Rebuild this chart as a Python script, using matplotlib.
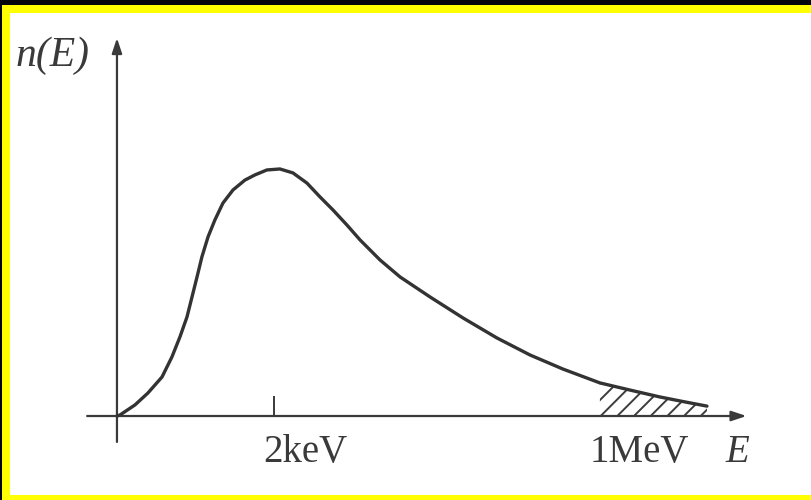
import matplotlib
matplotlib.use("Agg")
import matplotlib.pyplot as plt
from matplotlib.patches import Rectangle
import numpy as np

# --- data (arbitrary units: E so that 2keV tick = 1, n so that peak = 1) ---
E_vals = [0, 0.019, 0.115, 0.197, 0.287, 0.350, 0.401, 0.446, 0.478, 0.510,
          0.541, 0.580, 0.624, 0.675, 0.739, 0.815, 0.879, 0.955, 1.038, 1.121,
          1.210, 1.293, 1.376, 1.465, 1.548, 1.675, 1.803, 1.994, 2.204, 2.420,
          2.631, 2.841, 3.076, 3.268, 3.459, 3.618, 3.758]
n_vals = [0, 0.004, 0.045, 0.093, 0.158, 0.239, 0.320, 0.401, 0.482, 0.563,
          0.644, 0.725, 0.794, 0.862, 0.915, 0.955, 0.976, 0.996, 1.0, 0.984,
          0.943, 0.887, 0.834, 0.773, 0.713, 0.632, 0.563, 0.482, 0.397, 0.316,
          0.247, 0.190, 0.134, 0.105, 0.077, 0.057, 0.040]
tick_labels = ["2keV", "1MeV"]
tick_pos = [1.0, 3.076]
tail_start = 3.07
x_label = "E"
y_label = "n(E)"

plt.rcParams["hatch.linewidth"] = 1.4
ink = "#3a3a3a"
fig = plt.figure(figsize=(8.12, 5.0), dpi=100)
fig.patch.set_facecolor("white")

# frame: black outer, yellow border
fig.patches.append(Rectangle((0, 0), 1, 1, transform=fig.transFigure,
                             facecolor="#02060c", edgecolor="none", zorder=-10))
fig.patches.append(Rectangle((2/812, 0), 1, 1 - 5/500, transform=fig.transFigure,
                             facecolor="#ffff00", edgecolor="none", zorder=-9))
fig.patches.append(Rectangle((10/812, 5/500), 1, 1 - 18/500, transform=fig.transFigure,
                             facecolor="white", edgecolor="none", zorder=-8))

ax = fig.add_axes([0, 0, 1, 1], zorder=5)
ax.patch.set_visible(False)
ax.set_xlim(-0.745, 4.427)
ax.set_ylim(-0.340, 1.684)
ax.axis("off")

E = np.array(E_vals)
n = np.array(n_vals)

# axes with arrows
ax.annotate("", xy=(4.01, 0), xytext=(-0.19, 0),
            arrowprops=dict(arrowstyle="-|>,head_length=0.9,head_width=0.3",
                            color=ink, lw=1.6, shrinkA=0, shrinkB=0))
ax.annotate("", xy=(0, 1.53), xytext=(0, -0.105),
            arrowprops=dict(arrowstyle="-|>,head_length=0.9,head_width=0.3",
                            color=ink, lw=1.6, shrinkA=0, shrinkB=0))

# curve
ax.plot(E, n, color="#333333", lw=2.4, solid_capstyle="round",
        solid_joinstyle="round", zorder=3)

# hatched tail
mask = E >= tail_start
ax.fill_between(E[mask], 0, n[mask], facecolor="none", edgecolor="#3c3c3c",
                linewidth=0, hatch="//", zorder=2)

# tick at 2keV
ax.plot([tick_pos[0], tick_pos[0]], [0, 0.077], color=ink, lw=1.4)

font = ["Liberation Serif", "DejaVu Serif"]
ax.text(tick_pos[0] + 0.2, -0.146, tick_labels[0], fontsize=28, family=font,
        color=ink, ha="center", va="center")
ax.text(3.33, -0.146, tick_labels[1], fontsize=28, family=font,
        color=ink, ha="center", va="center")
ax.text(3.95, -0.146, x_label, fontsize=28, family=font, style="italic",
        color=ink, ha="center", va="center")
ax.text(-0.41, 1.457, y_label, fontsize=30, family=font, style="italic",
        color=ink, ha="center", va="center")

fig.savefig("out.png", dpi=100, facecolor=fig.get_facecolor())
